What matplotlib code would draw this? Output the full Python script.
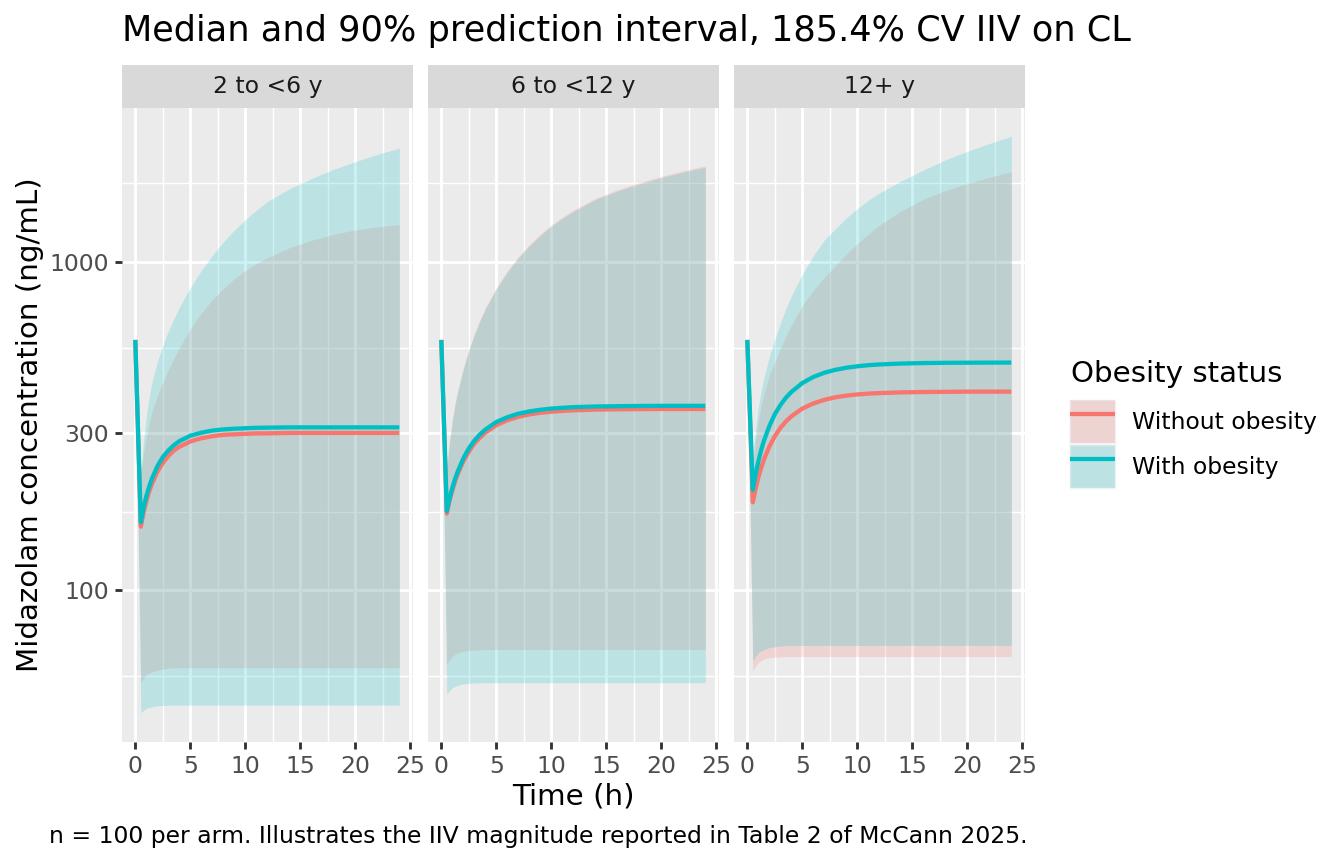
"""Median and 90% PI of midazolam concentration by age group and obesity status.
Values read off the reference chart (log y axis, ggplot-like styling).
"""
import numpy as np
import matplotlib
matplotlib.use('Agg')
import matplotlib.pyplot as plt
from matplotlib.patches import Patch
from matplotlib.lines import Line2D
from matplotlib.ticker import NullFormatter
from matplotlib.legend_handler import HandlerTuple

plt.rcParams['font.family'] = ['DejaVu Sans']

# ═════════════════════════════════════════════════════
# DATA (ng/mL)
# ═════════════════════════════════════════════════════
time_h = [0, 0.5, 0.75, 1, 1.25, 1.5, 2, 2.5, 3, 3.5, 4, 5, 6, 7, 8, 9, 10, 11, 12,
          14, 16, 18, 20, 22, 24]

panels = ['2 to <6 y', '6 to <12 y', '12+ y']
groups = ['Without obesity', 'With obesity']

# 2 to <6 y
med_wo_1 = [578, 156, 172, 186, 199, 210, 229, 244, 256, 266, 273, 283.5, 290, 294, 297, 298,
            299, 300, 300, 301, 301, 301, 301, 301, 301]
lo_wo_1 = [578, 52.2, 54.0, 55.3, 55.9, 56.3, 57.0, 57.4, 57.8, 57.9, 58.0, 58.0, 58.0, 58.0,
           58.0, 58.0, 58.0, 58.0, 58.0, 58.0, 58.0, 58.0, 58.0, 58.0, 58.0]
hi_wo_1 = [578, 224, 260, 292, 320, 347, 389, 429, 468, 507, 546, 624, 697, 766, 828, 887,
           940, 986, 1028, 1102, 1161, 1211, 1250, 1276, 1300]
med_w_1 = [578, 161, 178, 193, 206, 218, 238, 254, 266, 276, 284, 295, 301.5, 306, 308.5, 310,
           311, 312, 312.3, 313, 313, 313, 313, 313, 313]
lo_w_1 = [578, 42.3, 43.0, 43.6, 43.9, 44.1, 44.4, 44.5, 44.6, 44.6, 44.6, 44.6, 44.6, 44.6,
          44.6, 44.6, 44.6, 44.6, 44.6, 44.6, 44.6, 44.6, 44.6, 44.6, 44.6]
hi_w_1 = [578, 229, 285, 339, 385, 427, 495, 556, 614, 670, 726, 834, 940, 1045, 1148, 1247,
          1343, 1435, 1524, 1667, 1791, 1910, 2018, 2123, 2218]

# 6 to <12 y
med_wo_2 = [578, 171, 187.5, 201, 214, 226, 246.5, 264, 279, 291, 301.6, 317.7, 329, 337, 342.7,
            346.6, 349.3, 351.3, 352.7, 354.4, 355.2, 355.6, 356, 356, 356]
lo_wo_2 = [578, 59.4, 61.3, 62.7, 63.7, 64.4, 65.2, 65.4, 65.6, 65.8, 65.9, 65.9, 65.9, 65.9,
           65.9, 65.9, 65.9, 65.9, 65.9, 65.9, 65.9, 65.9, 65.9, 65.9, 65.9]
hi_wo_2 = [578, 236, 285, 330, 371, 407, 475, 540, 603, 665, 723, 834, 938, 1036, 1128, 1214,
           1295, 1369, 1436, 1560, 1657, 1743, 1821, 1894, 1960]
med_w_2 = [578, 174, 190, 204.5, 218, 230, 251.5, 270, 285, 297.5, 308, 325, 336, 344.5, 350,
           354, 357, 359, 360.6, 362.3, 363, 363.6, 364, 364, 364]
lo_w_2 = [578, 48.1, 49.5, 50.4, 50.9, 51.3, 51.8, 52.0, 52.1, 52.2, 52.2, 52.2, 52.2, 52.2,
          52.2, 52.2, 52.2, 52.2, 52.2, 52.2, 52.2, 52.2, 52.2, 52.2, 52.2]
hi_w_2 = [578, 234, 282, 327, 367, 403, 470, 535, 597, 658, 716, 826, 929, 1026, 1117, 1202,
          1282, 1355, 1422, 1545, 1641, 1726, 1803, 1875, 1941]

# 12+ y
med_wo_3 = [578, 185, 203, 220, 235, 249, 273.5, 294, 311.5, 326, 338, 357, 370, 379.6, 386.4,
            391, 394.2, 396.5, 398, 400, 401, 401.5, 402, 402, 402]
lo_wo_3 = [578, 56.6, 58.6, 60.1, 61.0, 61.6, 62.2, 62.4, 62.6, 62.7, 62.7, 62.7, 62.7, 62.7,
           62.7, 62.7, 62.7, 62.7, 62.7, 62.7, 62.7, 62.7, 62.7, 62.7, 62.7]
hi_wo_3 = [578, 240, 285, 327, 363, 395, 449, 495, 543, 592, 640, 735, 818, 895, 973, 1052,
           1135, 1213, 1291, 1429, 1549, 1648, 1730, 1807, 1879]
med_w_3 = [578, 202, 225, 246, 266, 284, 315.5, 343, 365.5, 385, 401, 427, 445.6, 459, 468.5,
           475.4, 480.3, 484, 486.5, 489.6, 491.3, 492.1, 492.5, 492.8, 493]
lo_w_3 = [578, 60.7, 62.8, 64.4, 65.2, 65.8, 66.8, 67.2, 67.5, 67.7, 67.8, 67.8, 67.8, 67.8,
          67.8, 67.8, 67.8, 67.8, 67.8, 67.8, 67.8, 67.8, 67.8, 67.8, 67.8]
hi_w_3 = [578, 251, 309, 359, 403, 442, 513, 581, 649, 718, 785, 916, 1042, 1164, 1259, 1358,
          1452, 1538, 1618, 1762, 1901, 2042, 2168, 2291, 2410]

series = [
    [(med_wo_1, lo_wo_1, hi_wo_1), (med_w_1, lo_w_1, hi_w_1)],
    [(med_wo_2, lo_wo_2, hi_wo_2), (med_w_2, lo_w_2, hi_w_2)],
    [(med_wo_3, lo_wo_3, hi_wo_3), (med_w_3, lo_w_3, hi_w_3)],
]

y_major = [100, 300, 1000]
y_minor = [54.77, 173.2, 547.7, 1732]
x_major = [0, 5, 10, 15, 20, 25]
x_minor = [2.5, 7.5, 12.5, 17.5, 22.5]

COLORS = ['#F8766D', '#00BFC4']
BG = '#EBEBEB'

# ═════════════════════════════════════════════════════
# SCALES (ggplot style 5% expansion)
# ═════════════════════════════════════════════════════
t = np.array(time_h)
all_lo = np.concatenate([np.array(s[1]) for p in series for s in p])
all_hi = np.concatenate([np.array(s[2]) for p in series for s in p])
lmin, lmax = np.log10(all_lo.min()), np.log10(all_hi.max())
lpad = 0.05 * (lmax - lmin)
ylim = (10 ** (lmin - lpad), 10 ** (lmax + lpad))
xpad = 0.05 * (t.max() - t.min())
xlim = (t.min() - xpad, t.max() + xpad)

# ═════════════════════════════════════════════════════
# FIGURE
# ═════════════════════════════════════════════════════
W, H = 1344, 864
fig = plt.figure(figsize=(7, 4.5), dpi=192)

def fx(px):
    return px / W

def fy(px):
    return 1 - px / H

panel_left = [122.1, 428.1, 734.1]
panel_w = 290.4
top_px, bot_px = 107.5, 741.5
strip_top = 65.0

for i, (name, data) in enumerate(zip(panels, series)):
    ax = fig.add_axes([fx(panel_left[i]), fy(bot_px), fx(panel_w), (bot_px - top_px) / H])
    ax.set_facecolor(BG)
    for sp in ax.spines.values():
        sp.set_visible(False)
    ax.set_yscale('log')
    ax.set_xlim(*xlim)
    ax.set_ylim(*ylim)

    for (med, lo, hi), c in zip(data, COLORS):
        ax.fill_between(t, lo, hi, color=c, alpha=0.2, linewidth=0, zorder=1)
    for (med, lo, hi), c in zip(data, COLORS):
        ax.plot(t, med, color=c, lw=1.6, solid_capstyle='butt', solid_joinstyle='round', zorder=2)

    ax.set_yticks(y_major)
    ax.set_yticks(y_minor, minor=True)
    ax.set_xticks(x_major)
    ax.set_xticks(x_minor, minor=True)
    ax.yaxis.set_minor_formatter(NullFormatter())
    ax.xaxis.set_minor_formatter(NullFormatter())
    ax.set_xticklabels([str(v) for v in x_major])
    if i == 0:
        ax.set_yticklabels([str(v) for v in y_major])
    else:
        ax.set_yticklabels([])
    ax.grid(which='major', color='white', lw=1.07)
    ax.grid(which='minor', color='white', lw=0.53)
    ax.set_axisbelow(True)
    ax.tick_params(which='major', length=2.75, width=1.07, color='#333333',
                   labelsize=8.8, labelcolor='#4D4D4D', pad=2.2)
    ax.tick_params(which='minor', length=0)
    if i > 0:
        ax.tick_params(axis='y', which='major', length=0)

    # strip
    sax = fig.add_axes([fx(panel_left[i]), fy(top_px), fx(panel_w), (top_px - strip_top) / H])
    sax.set_facecolor('#D9D9D9')
    sax.set_xticks([]); sax.set_yticks([])
    for sp in sax.spines.values():
        sp.set_visible(False)
    sax.text(0.5, 0.5, name, ha='center', va='center', fontsize=8.8, color='#1A1A1A',
             transform=sax.transAxes)

# ═════════════════════════════════════════════════════
# TEXTS
# ═════════════════════════════════════════════════════
fig.text(fx(122), fy(41), 'Median and 90% prediction interval, 185.4% CV IIV on CL',
         fontsize=13.2, ha='left', va='baseline', color='black')
fig.text(fx((panel_left[0] + panel_left[2] + panel_w) / 2), fy(797), 'Time (h)',
         fontsize=11, ha='center', va='center')
fig.text(fx(30), fy((top_px + bot_px) / 2), 'Midazolam concentration (ng/mL)',
         fontsize=11, ha='center', va='center', rotation=90)
fig.text(fx(49), fy(837),
         'n = 100 per arm. Illustrates the IIV magnitude reported in Table 2 of McCann 2025.',
         fontsize=8.8, ha='left', va='center')

# legend
fig.text(fx(1071), fy(382), 'Obesity status', fontsize=11, ha='left', va='baseline')
handles = []
for c in COLORS:
    handles.append((Patch(facecolor=BG, edgecolor='none'),
                    Patch(facecolor=c, alpha=0.2, edgecolor=BG, linewidth=1.2),
                    Line2D([], [], color=c, lw=1.6, solid_capstyle='butt')))
leg = fig.legend(handles, groups, loc='upper left',
                 bbox_to_anchor=(fx(1070), fy(400)), bbox_transform=fig.transFigure,
                 frameon=False, fontsize=8.8,
                 handler_map={tuple: HandlerTuple(ndivide=1, pad=0)},
                 handlelength=1.92, handleheight=2.45, handletextpad=0.72,
                 labelspacing=0.08, borderpad=0, borderaxespad=0)

fig.savefig('out.png', dpi=192)
